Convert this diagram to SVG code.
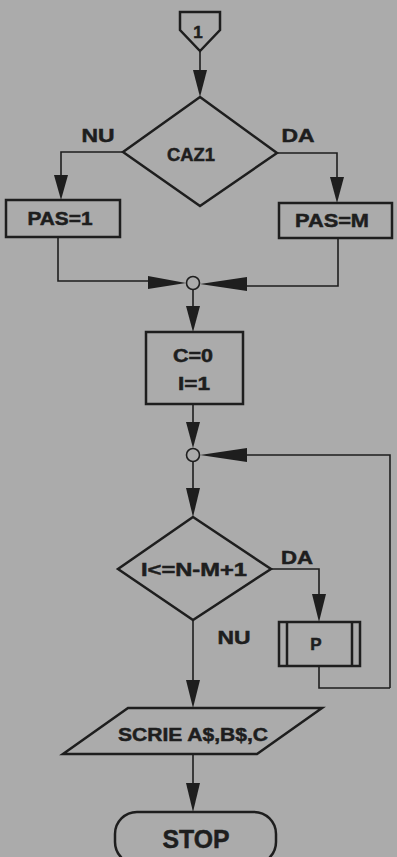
<svg xmlns="http://www.w3.org/2000/svg" width="397" height="857" viewBox="0 0 397 857">
<defs>
<style>
.bg{fill:#ababab}
.s{fill:none;stroke:#1e1e1e;stroke-width:2.5;stroke-linejoin:miter}
.t{fill:#1e1e1e;stroke:#1e1e1e;stroke-width:0.5;font-family:"Liberation Sans",Arial,sans-serif;font-weight:bold;font-size:18px;text-anchor:middle}
.c{fill:none;stroke:#1e1e1e;stroke-width:1.6}
.l{fill:none;stroke:#1e1e1e;stroke-width:1.6}
.a{fill:#1e1e1e}
</style>
</defs>
<rect class="bg" x="0" y="0" width="397" height="857"/>

<g id="connectors">
<path class="l" d="M200,51 V70"/>
<polygon class="a" points="193,70 207,70 200,97"/>
<path class="l" d="M123,152 H61 V176"/>
<polygon class="a" points="54,175 68,175 61,200"/>
<path class="l" d="M277,153 H337 V178"/>
<polygon class="a" points="330,177 344,177 337,203"/>
<path class="l" d="M58,237 V281 H150"/>
<polygon class="a" points="148,276 148,289 186,283"/>
<path class="l" d="M338,238 V286 H245"/>
<polygon class="a" points="247,277 247,291 200,284"/>
<path class="l" d="M193,290 V306"/>
<polygon class="a" points="186,306 200,306 193,332"/>
<path class="l" d="M193,404 V424"/>
<polygon class="a" points="186,422 200,422 193,448"/>
<path class="l" d="M390,688 V455 H245"/>
<polygon class="a" points="247,448 247,462 200,455"/>
<path class="l" d="M319,666 V688 H390"/>
<path class="l" d="M193,462 V490"/>
<polygon class="a" points="186,488 200,488 193,517"/>
<path class="l" d="M271,569 H319 V596"/>
<polygon class="a" points="312,594 326,594 319,622"/>
<path class="l" d="M193,620 V682"/>
<polygon class="a" points="186,680 200,680 193,708"/>
<path class="l" d="M193,754 V785"/>
<polygon class="a" points="186,783 200,783 193,812"/>
</g>

<g id="start">
<path class="s" d="M180,12 H220 V30 L200,51 L180,30 Z"/>
<text class="t" x="198" y="38" style="font-size:17px">1</text>
</g>

<g id="caz1">
<path class="s" d="M200,97 L277,153 L200,206 L123,152 Z"/>
<text class="t" x="191" y="161" textLength="48" lengthAdjust="spacingAndGlyphs">CAZ1</text>
<text class="t" x="98" y="142" textLength="33" lengthAdjust="spacingAndGlyphs">NU</text>
<text class="t" x="298" y="142" textLength="33" lengthAdjust="spacingAndGlyphs">DA</text>
</g>

<g id="pas1">
<rect class="s" x="6" y="200" width="114" height="37"/>
<text class="t" x="60" y="225" textLength="65" lengthAdjust="spacingAndGlyphs">PAS=1</text>
</g>

<g id="pasm">
<rect class="s" x="279" y="203" width="113" height="35"/>
<text class="t" x="332" y="227" textLength="74" lengthAdjust="spacingAndGlyphs">PAS=M</text>
</g>

<g id="join1">
<circle class="c" cx="193" cy="283" r="6.5"/>
</g>

<g id="init">
<rect class="s" x="146" y="332" width="97" height="72"/>
<text class="t" x="193" y="362" textLength="40" lengthAdjust="spacingAndGlyphs">C=0</text>
<text class="t" x="194" y="390" textLength="32" lengthAdjust="spacingAndGlyphs">I=1</text>
</g>

<g id="join2">
<circle class="c" cx="193" cy="455" r="6.5"/>
</g>

<g id="cond">
<path class="s" d="M193,517 L271,569 L193,620 L118,569 Z"/>
<text class="t" x="194" y="576" textLength="106" lengthAdjust="spacingAndGlyphs">I&lt;=N-M+1</text>
<text class="t" x="297" y="564" textLength="32" lengthAdjust="spacingAndGlyphs">DA</text>
<text class="t" x="234" y="644" textLength="33" lengthAdjust="spacingAndGlyphs">NU</text>
</g>

<g id="p">
<rect class="s" x="279" y="622" width="81" height="44"/>
<path class="s" d="M287,622 V666 M352,622 V666"/>
<text class="t" x="316" y="650" style="font-size:17px">P</text>
</g>

<g id="scrie">
<path class="s" d="M128,708 H322 L257,754 H63 Z"/>
<text class="t" x="193" y="741" textLength="150" lengthAdjust="spacingAndGlyphs">SCRIE  A$,B$,C</text>
</g>

<g id="stop">
<rect class="s" x="115" y="812" width="161" height="52" rx="22"/>
<text class="t" x="196" y="848" style="font-size:25px" textLength="67" lengthAdjust="spacingAndGlyphs">STOP</text>
</g>
</svg>
